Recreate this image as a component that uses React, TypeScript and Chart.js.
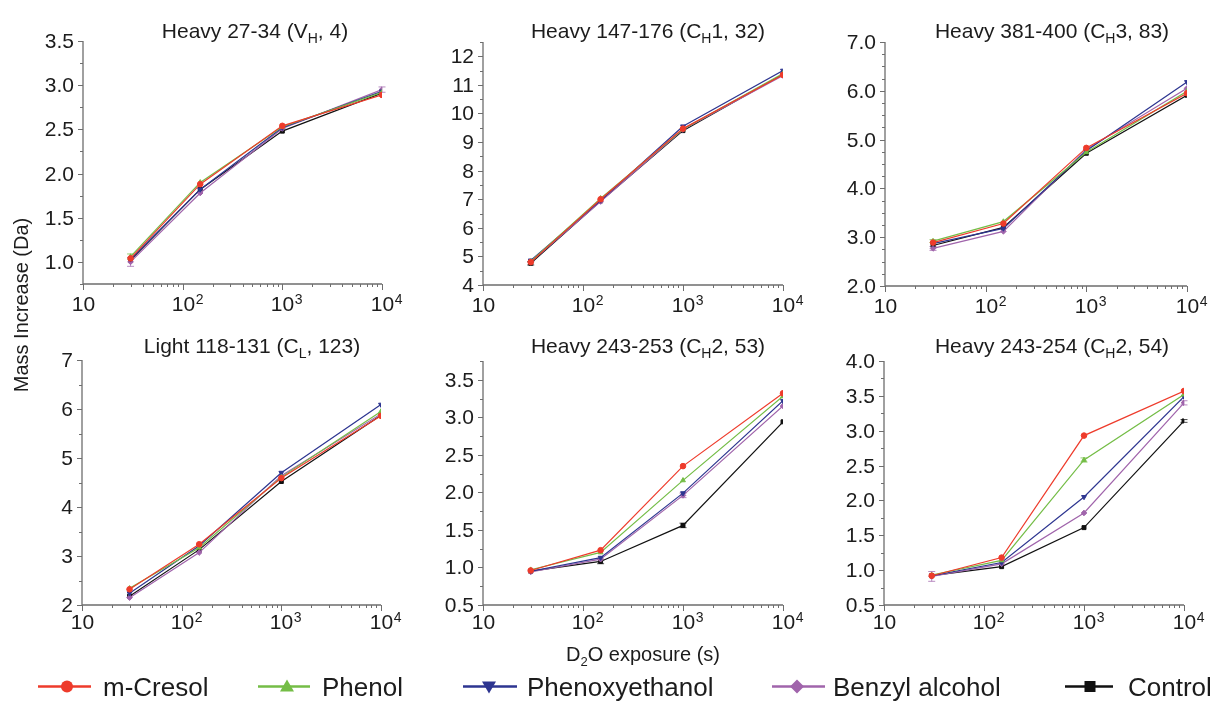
import React, { useEffect, useRef } from 'react';
import { Chart, registerables } from 'chart.js';

Chart.register(...registerables);

const FONT = '"Liberation Sans", Arial, Helvetica, sans-serif';
const TEXT = '#1c1c1c';
const AXIS = '#6e6e6e';

// D2O exposure times (s)
const exposureTimes = [30, 150, 1000, 10000];

const seriesNames = ['m-Cresol', 'Phenol', 'Phenoxyethanol', 'Benzyl alcohol', 'Control'];
const seriesColors = ['#ee3b2b', '#74bd46', '#2d3590', '#a064ab', '#111111'];
const seriesMarkers = ['circle', 'triangle', 'triangle', 'rectRot', 'rect'];
const seriesMarkerRotation = [0, 0, 180, 0, 0];

// Mass increase (Da), one row per series (seriesNames order), one column per exposure time
const heavy27_34 = [
  [1.04, 1.88, 2.54, 2.89],
  [1.06, 1.9, 2.53, 2.92],
  [1.03, 1.82, 2.52, 2.93],
  [1.0, 1.78, 2.51, 2.95],
  [1.02, 1.82, 2.48, 2.91],
];

const heavy147_176 = [
  [4.8, 7.0, 9.47, 11.35],
  [4.82, 7.03, 9.45, 11.4],
  [4.86, 6.96, 9.55, 11.5],
  [4.8, 6.92, 9.44, 11.33],
  [4.76, 6.94, 9.4, 11.37],
];

const heavy381_400 = [
  [2.89, 3.28, 4.83, 5.95],
  [2.92, 3.32, 4.74, 5.99],
  [2.87, 3.18, 4.77, 6.18],
  [2.77, 3.12, 4.8, 6.05],
  [2.83, 3.2, 4.72, 5.91],
];

const light118_131 = [
  [2.32, 3.24, 4.59, 5.86],
  [2.34, 3.17, 4.61, 5.95],
  [2.24, 3.21, 4.7, 6.09],
  [2.15, 3.07, 4.64, 5.9],
  [2.18, 3.13, 4.52, 5.87],
];

const heavy243_253 = [
  [0.96, 1.23, 2.35, 3.32],
  [0.97, 1.2, 2.16, 3.28],
  [0.95, 1.13, 1.99, 3.22],
  [0.94, 1.11, 1.96, 3.15],
  [0.95, 1.08, 1.56, 2.94],
];

const heavy243_254 = [
  [0.92, 1.18, 2.93, 3.57],
  [0.93, 1.14, 2.58, 3.52],
  [0.92, 1.11, 2.05, 3.49],
  [0.91, 1.09, 1.82, 3.4],
  [0.92, 1.05, 1.61, 3.14],
];

// Standard deviations large enough to show: [panel, series, time index, sd]
const errorBars = [
  [0, 1, 0, 0.03],
  [0, 3, 0, 0.05],
  [0, 3, 3, 0.03],
  [1, 4, 0, 0.06],
  [2, 1, 0, 0.03],
  [2, 3, 0, 0.04],
  [4, 4, 1, 0.03],
  [4, 4, 2, 0.03],
  [4, 3, 2, 0.03],
  [5, 3, 0, 0.07],
  [5, 1, 2, 0.03],
  [5, 3, 3, 0.03],
  [5, 4, 3, 0.02],
];

type Panel = {
  title: [string, string, string]; // text, subscript, text
  data: number[][];
  yMin: number;
  yMax: number;
  yMajor: number;
  yMinor: number;
  decimals: number;
  area: [number, number, number, number]; // left, top, right, bottom (page px)
  titleX: number;
  titleY: number;
  labelDrop: number;
};

const panels: Panel[] = [
  { title: ['Heavy 27-34 (V', 'H', ', 4)'], data: heavy27_34, yMin: 0.75, yMax: 3.5, yMajor: 0.5, yMinor: 0.25, decimals: 1, area: [83, 41, 382, 284], titleX: 255, titleY: 37.5, labelDrop: 27 },
  { title: ['Heavy 147-176 (C', 'H', '1, 32)'], data: heavy147_176, yMin: 4, yMax: 12.5, yMajor: 1, yMinor: 0.5, decimals: 0, area: [483, 42, 783, 285], titleX: 648, titleY: 38, labelDrop: 27 },
  { title: ['Heavy 381-400 (C', 'H', '3, 83)'], data: heavy381_400, yMin: 2, yMax: 7, yMajor: 1, yMinor: 0.25, decimals: 1, area: [885, 42, 1187, 286], titleX: 1052, titleY: 38, labelDrop: 27 },
  { title: ['Light 118-131 (C', 'L', ', 123)'], data: light118_131, yMin: 2, yMax: 7, yMajor: 1, yMinor: 0.5, decimals: 0, area: [82, 360, 381, 605], titleX: 252, titleY: 353, labelDrop: 24 },
  { title: ['Heavy 243-253 (C', 'H', '2, 53)'], data: heavy243_253, yMin: 0.5, yMax: 3.75, yMajor: 0.5, yMinor: 0.25, decimals: 1, area: [483, 361, 783, 605], titleX: 648, titleY: 353, labelDrop: 24 },
  { title: ['Heavy 243-254 (C', 'H', '2, 54)'], data: heavy243_254, yMin: 0.5, yMax: 4, yMajor: 0.5, yMinor: 0.25, decimals: 1, area: [884, 361, 1184, 605], titleX: 1052, titleY: 353, labelDrop: 24 },
];

const PAD = { left: 80, top: 45, right: 22, bottom: 40 };

function canvasBox(p: Panel) {
  const [l, t, r, b] = p.area;
  return { x: l - PAD.left, y: t - PAD.top, w: r - l + PAD.left + PAD.right, h: b - t + PAD.top + PAD.bottom };
}

function panelAxes(p: Panel, panelIndex: number) {
  const box = canvasBox(p);
  return {
    id: 'panelAxes',
    beforeDatasetsDraw(chart: any) {
      const { ctx, chartArea } = chart;
      const { left, right, top, bottom } = chartArea;
      const xs = chart.scales.x;
      const ys = chart.scales.y;
      ctx.save();
      ctx.strokeStyle = AXIS;
      ctx.lineWidth = 1.3;
      ctx.beginPath();
      ctx.moveTo(left, top);
      ctx.lineTo(left, bottom);
      ctx.lineTo(right, bottom);
      ctx.stroke();

      // y ticks and labels
      ctx.lineWidth = 1;
      ctx.fillStyle = TEXT;
      ctx.font = `21px ${FONT}`;
      ctx.textAlign = 'right';
      ctx.textBaseline = 'middle';
      const n = Math.round((p.yMax - p.yMin) / p.yMinor);
      for (let i = 0; i <= n; i++) {
        const v = p.yMin + i * p.yMinor;
        const py = Math.round(ys.getPixelForValue(v)) + 0.5;
        const q = v / p.yMajor;
        const major = Math.abs(q - Math.round(q)) < 1e-6;
        ctx.beginPath();
        ctx.moveTo(left, py);
        ctx.lineTo(left - (major ? 5 : 3), py);
        ctx.stroke();
        if (major) ctx.fillText(v.toFixed(p.decimals), left - 9, py + 1);
      }

      // x ticks (log decades) and labels
      for (let e = 1; e <= 4; e++) {
        const px = Math.round(xs.getPixelForValue(Math.pow(10, e))) + 0.5;
        ctx.beginPath();
        ctx.moveTo(px, bottom);
        ctx.lineTo(px, bottom + 6);
        ctx.stroke();
        if (e < 4) {
          for (let k = 2; k <= 9; k++) {
            const mx = Math.round(xs.getPixelForValue(k * Math.pow(10, e))) + 0.5;
            ctx.beginPath();
            ctx.moveTo(mx, bottom);
            ctx.lineTo(mx, bottom + 3);
            ctx.stroke();
          }
        }
        ctx.font = `21px ${FONT}`;
        ctx.textAlign = 'center';
        ctx.textBaseline = 'alphabetic';
        const base = bottom + p.labelDrop;
        ctx.fillText('10', px, base);
        if (e > 1) {
          const w = ctx.measureText('10').width;
          ctx.font = `14px ${FONT}`;
          ctx.textAlign = 'left';
          ctx.fillText(String(e), px + w / 2 + 0.5, base - 7);
        }
      }

      // panel title with subscript
      const [a, sub, c] = p.title;
      ctx.textAlign = 'left';
      ctx.textBaseline = 'alphabetic';
      ctx.font = `21px ${FONT}`;
      const wa = ctx.measureText(a).width;
      const wc = ctx.measureText(c).width;
      ctx.font = `14px ${FONT}`;
      const ws = ctx.measureText(sub).width;
      const total = wa + ws + wc;
      const tx = p.titleX - box.x - total / 2;
      const ty = p.titleY - box.y;
      ctx.font = `21px ${FONT}`;
      ctx.fillText(a, tx, ty);
      ctx.font = `14px ${FONT}`;
      ctx.fillText(sub, tx + wa, ty + 5);
      ctx.font = `21px ${FONT}`;
      ctx.fillText(c, tx + wa + ws, ty);

      // error bars (drawn under the series lines)
      ctx.lineWidth = 1;
      errorBars
        .filter((eb) => eb[0] === panelIndex)
        .forEach(([, s, k, sd]) => {
          const v = p.data[s][k];
          const px = xs.getPixelForValue(exposureTimes[k]);
          const y1 = ys.getPixelForValue(v - sd);
          const y2 = ys.getPixelForValue(v + sd);
          ctx.strokeStyle = seriesColors[s];
          ctx.globalAlpha = 0.75;
          ctx.beginPath();
          ctx.moveTo(px, y1);
          ctx.lineTo(px, y2);
          ctx.moveTo(px - 3.5, y1);
          ctx.lineTo(px + 3.5, y1);
          ctx.moveTo(px - 3.5, y2);
          ctx.lineTo(px + 3.5, y2);
          ctx.stroke();
        });
      ctx.restore();
    },
  };
}

function buildConfig(p: Panel, panelIndex: number): any {
  return {
    type: 'line',
    data: {
      datasets: seriesNames.map((name, s) => ({
        label: name,
        data: exposureTimes.map((t, k) => ({ x: t, y: p.data[s][k] })),
        borderColor: seriesColors[s],
        backgroundColor: seriesColors[s],
        borderWidth: 1.2,
        pointStyle: seriesMarkers[s],
        pointRotation: seriesMarkerRotation[s],
        pointRadius: 2.8,
        pointBorderWidth: 1,
        tension: 0,
        fill: false,
      })),
    },
    options: {
      responsive: false,
      animation: false,
      devicePixelRatio: 1,
      events: [],
      layout: { padding: PAD },
      plugins: {
        legend: { display: false },
        title: { display: false },
        tooltip: { enabled: false },
      },
      scales: {
        x: { type: 'logarithmic', min: 10, max: 10000, display: false },
        y: { type: 'linear', min: p.yMin, max: p.yMax, display: false },
      },
    },
    plugins: [panelAxes(p, panelIndex)],
  };
}

const legendItems = [
  { line: [38, 91], mark: 67, text: 103 },
  { line: [258, 310], mark: 287, text: 322 },
  { line: [463, 517], mark: 489, text: 527 },
  { line: [772, 825], mark: 797, text: 833 },
  { line: [1065, 1113], mark: 1090, text: 1128 },
];

function LegendMarker({ s, cx, cy }: { s: number; cx: number; cy: number }) {
  const c = seriesColors[s];
  const r = 6;
  switch (seriesMarkers[s]) {
    case 'circle':
      return <circle cx={cx} cy={cy} r={r} fill={c} />;
    case 'triangle':
      return seriesMarkerRotation[s] === 180 ? (
        <polygon points={`${cx - 7},${cy - 5} ${cx + 7},${cy - 5} ${cx},${cy + 7}`} fill={c} />
      ) : (
        <polygon points={`${cx - 7},${cy + 5} ${cx + 7},${cy + 5} ${cx},${cy - 7}`} fill={c} />
      );
    case 'rectRot':
      return <polygon points={`${cx},${cy - 7} ${cx + 7},${cy} ${cx},${cy + 7} ${cx - 7},${cy}`} fill={c} />;
    default:
      return <rect x={cx - 5.5} y={cy - 5.5} width={11} height={11} fill={c} />;
  }
}

export default function App() {
  const refs = useRef<(HTMLCanvasElement | null)[]>([]);

  useEffect(() => {
    const charts = panels.map((p, i) => new Chart(refs.current[i] as HTMLCanvasElement, buildConfig(p, i)));
    return () => charts.forEach((c) => c.destroy());
  }, []);

  return (
    <div style={{ position: 'absolute', left: 0, top: 0, width: 1215, height: 704, background: '#fff', overflow: 'hidden' }}>
      {panels.map((p, i) => {
        const b = canvasBox(p);
        return (
          <canvas
            key={i}
            ref={(el) => {
              refs.current[i] = el;
            }}
            width={b.w}
            height={b.h}
            style={{ position: 'absolute', left: b.x, top: b.y, width: b.w, height: b.h }}
          />
        );
      })}
      <svg width={1215} height={704} style={{ position: 'absolute', left: 0, top: 0, pointerEvents: 'none' }}>
        <text transform="translate(28,305) rotate(-90)" textAnchor="middle" fontSize={20} fontFamily={FONT} fill={TEXT}>
          Mass Increase (Da)
        </text>
        <text x={643} y={661} textAnchor="middle" fontSize={20} fontFamily={FONT} fill={TEXT}>
          D<tspan fontSize={13} dy={5}>2</tspan>
          <tspan dy={-5}>O exposure (s)</tspan>
        </text>
        {legendItems.map((it, s) => (
          <g key={s}>
            <line x1={it.line[0]} y1={686.5} x2={it.line[1]} y2={686.5} stroke={seriesColors[s]} strokeWidth={2.6} />
            <LegendMarker s={s} cx={it.mark} cy={686.5} />
            <text x={it.text} y={696} fontSize={26} fontFamily={FONT} fill={TEXT}>
              {seriesNames[s]}
            </text>
          </g>
        ))}
      </svg>
    </div>
  );
}
